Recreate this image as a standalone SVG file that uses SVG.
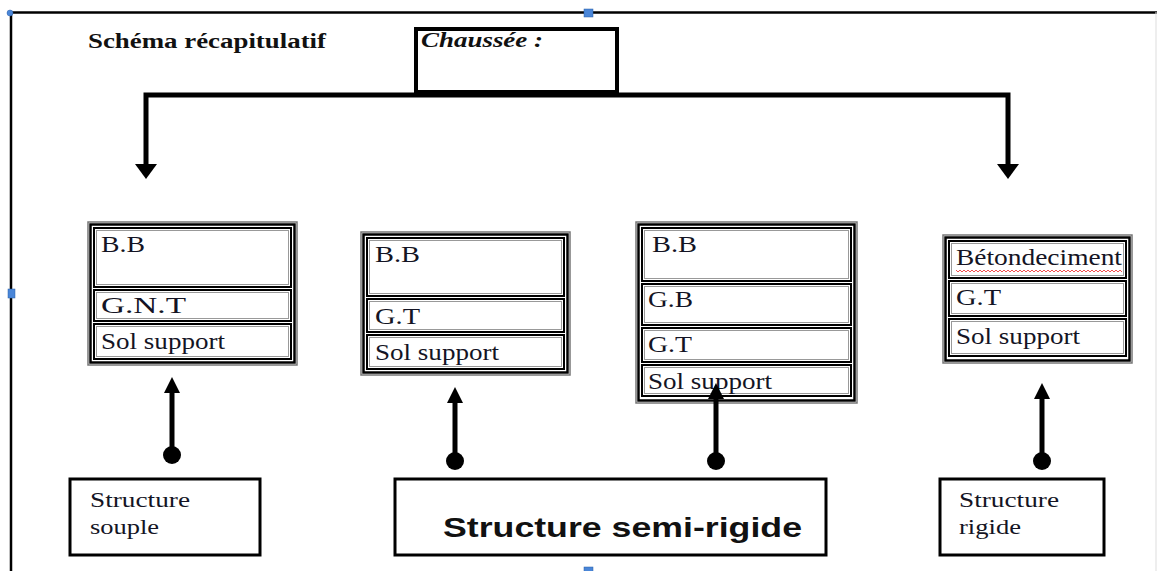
<svg xmlns="http://www.w3.org/2000/svg" width="1157" height="571" viewBox="0 0 1157 571">
<style>
.bg{fill:#fff}
.t{font-family:"Liberation Serif","Times New Roman",serif;fill:#141424;font-size:23px}
.s{font-size:21px}
.ttl{font-family:"Liberation Serif","Times New Roman",serif;font-weight:bold;font-size:20px;fill:#111}
.o1{fill:none;stroke:#777;stroke-width:1.5}
.o2{fill:none;stroke:#000;stroke-width:2.5}
.c1{fill:#fff;stroke:#000;stroke-width:2}
.c2{fill:none;stroke:#999;stroke-width:1}
.conn{fill:none;stroke:#000;stroke-width:5}
.dot{fill:#000}
.box{fill:#fff;stroke:#000;stroke-width:3}
.handle{fill:#4a86d8;stroke:#2a5fa8;stroke-width:0.5}
</style>
<rect class="bg" x="0" y="0" width="1157" height="571"/>

<g id="frame">
<line x1="10" y1="12.5" x2="1157" y2="12.5" stroke="#000" stroke-width="2.5"/>
<line x1="11" y1="12" x2="11" y2="571" stroke="#000" stroke-width="2.5"/>
<line x1="1156" y1="12" x2="1156" y2="571" stroke="#ddd" stroke-width="1"/>
</g>

<text id="title" class="ttl" x="88" y="48" textLength="238" lengthAdjust="spacingAndGlyphs">Schéma récapitulatif</text>

<g id="chaussee">
<rect x="416" y="29" width="201" height="63" fill="#fff" stroke="#000" stroke-width="4"/>
<text class="ttl" x="421" y="47" font-style="italic" textLength="122" lengthAdjust="spacingAndGlyphs">Chaussée :</text>
</g>

<g id="col1">
<rect class="o1" x="88" y="222" width="209" height="143"/>
<rect class="o2" x="90.5" y="224.5" width="204" height="138"/>
<rect class="c1" x="94" y="228" width="197" height="59"/><rect class="c2" x="96.5" y="230.5" width="192" height="54"/>
<rect class="c1" x="94" y="290" width="197" height="31"/><rect class="c2" x="96.5" y="292.5" width="192" height="26"/>
<rect class="c1" x="94" y="324" width="197" height="35"/><rect class="c2" x="96.5" y="326.5" width="192" height="30"/>
<text class="t" x="101" y="252" textLength="44" lengthAdjust="spacingAndGlyphs">B.B</text>
<text class="t" x="101" y="313" textLength="85" lengthAdjust="spacingAndGlyphs">G.N.T</text>
<text class="t" x="101" y="349" textLength="124" lengthAdjust="spacingAndGlyphs">Sol support</text>
</g>

<g id="col2">
<rect class="o1" x="361" y="232" width="209" height="143"/>
<rect class="o2" x="363.5" y="234.5" width="204" height="138"/>
<rect class="c1" x="367" y="238" width="197" height="58"/><rect class="c2" x="369.5" y="240.5" width="192" height="53"/>
<rect class="c1" x="367" y="299" width="197" height="33"/><rect class="c2" x="369.5" y="301.5" width="192" height="28"/>
<rect class="c1" x="367" y="335" width="197" height="34"/><rect class="c2" x="369.5" y="337.5" width="192" height="29"/>
<text class="t" x="375" y="262" textLength="45" lengthAdjust="spacingAndGlyphs">B.B</text>
<text class="t" x="375" y="324" textLength="45" lengthAdjust="spacingAndGlyphs">G.T</text>
<text class="t" x="375" y="360" textLength="124" lengthAdjust="spacingAndGlyphs">Sol support</text>
</g>

<g id="col3">
<rect class="o1" x="636" y="222" width="221" height="181"/>
<rect class="o2" x="638.5" y="224.5" width="216" height="176"/>
<rect class="c1" x="642" y="228" width="209" height="53"/><rect class="c2" x="644.5" y="230.5" width="204" height="48"/>
<rect class="c1" x="642" y="284" width="209" height="41"/><rect class="c2" x="644.5" y="286.5" width="204" height="36"/>
<rect class="c1" x="642" y="328" width="209" height="34"/><rect class="c2" x="644.5" y="330.5" width="204" height="29"/>
<rect class="c1" x="642" y="365" width="209" height="31"/><rect class="c2" x="644.5" y="367.5" width="204" height="26"/>
<text class="t" x="652" y="252" textLength="45" lengthAdjust="spacingAndGlyphs">B.B</text>
<text class="t" x="648" y="307" textLength="45" lengthAdjust="spacingAndGlyphs">G.B</text>
<text class="t" x="648" y="352" textLength="44" lengthAdjust="spacingAndGlyphs">G.T</text>
<text class="t" x="648" y="389" textLength="124" lengthAdjust="spacingAndGlyphs">Sol support</text>
</g>

<g id="col4">
<rect class="o1" x="943" y="235" width="189" height="128"/>
<rect class="o2" x="945.5" y="237.5" width="184" height="123"/>
<rect class="c1" x="949" y="241" width="177" height="37"/><rect class="c2" x="951.5" y="243.5" width="172" height="32"/>
<rect class="c1" x="949" y="281" width="177" height="35"/><rect class="c2" x="951.5" y="283.5" width="172" height="30"/>
<rect class="c1" x="949" y="319" width="177" height="37"/><rect class="c2" x="951.5" y="321.5" width="172" height="32"/>
<text class="t" x="956" y="265" textLength="166" lengthAdjust="spacingAndGlyphs">Bétondeciment</text>
<polyline fill="none" stroke="#f05050" stroke-width="1" points="956,270 958,272 960,270 962,272 964,270 966,272 968,270 970,272 972,270 974,272 976,270 978,272 980,270 982,272 984,270 986,272 988,270 990,272 992,270 994,272 996,270 998,272 1000,270 1002,272 1004,270 1006,272 1008,270 1010,272 1012,270 1014,272 1016,270 1018,272 1020,270 1022,272 1024,270 1026,272 1028,270 1030,272 1032,270 1034,272 1036,270 1038,272 1040,270 1042,272 1044,270 1046,272 1048,270 1050,272 1052,270 1054,272 1056,270 1058,272 1060,270 1062,272 1064,270 1066,272 1068,270 1070,272 1072,270 1074,272 1076,270 1078,272 1080,270 1082,272 1084,270 1086,272 1088,270 1090,272 1092,270 1094,272 1096,270 1098,272 1100,270 1102,272 1104,270 1106,272 1108,270 1110,272 1112,270 1114,272 1116,270 1118,272 1120,270 1122,272"/>
<text class="t" x="956" y="305" textLength="45" lengthAdjust="spacingAndGlyphs">G.T</text>
<text class="t" x="956" y="344" textLength="124" lengthAdjust="spacingAndGlyphs">Sol support</text>
</g>

<g id="souple">
<rect class="box" x="70" y="479" width="190" height="76"/>
<text class="t s" x="90" y="507" textLength="100" lengthAdjust="spacingAndGlyphs">Structure</text>
<text class="t s" x="90" y="534" textLength="69" lengthAdjust="spacingAndGlyphs">souple</text>
</g>
<g id="semirigide">
<rect class="box" x="395" y="479" width="431" height="76"/>
<text x="443" y="537" font-family="Liberation Sans, Arial, sans-serif" font-weight="bold" font-size="28" fill="#111" textLength="359" lengthAdjust="spacingAndGlyphs">Structure semi-rigide</text>
</g>
<g id="rigide">
<rect class="box" x="940" y="479" width="164" height="76"/>
<text class="t s" x="959" y="507" textLength="100" lengthAdjust="spacingAndGlyphs">Structure</text>
<text class="t s" x="959" y="534" textLength="62" lengthAdjust="spacingAndGlyphs">rigide</text>
</g>

<g id="connectors">
<polyline class="conn" points="146,166 146,95 1008,95 1008,166"/>
<line x1="416" y1="93.5" x2="617" y2="93.5" stroke="#000" stroke-width="4"/>
<polygon points="135,164 157,164 146,179" fill="#000"/>
<polygon points="997,164 1019,164 1008,179" fill="#000"/>

<line class="conn" x1="172" y1="455" x2="172" y2="390"/>
<polygon points="164,393 180,393 172,377" fill="#000"/>
<circle class="dot" cx="172" cy="455" r="9"/>

<line class="conn" x1="455" y1="461" x2="455" y2="400"/>
<polygon points="447,403 463,403 455,387" fill="#000"/>
<circle class="dot" cx="455" cy="461" r="9"/>

<line class="conn" x1="716" y1="461" x2="716" y2="396"/>
<polygon points="708,399 724,399 716,383" fill="#000"/>
<circle class="dot" cx="716" cy="461" r="9"/>

<line class="conn" x1="1042" y1="461" x2="1042" y2="396"/>
<polygon points="1034,399 1050,399 1042,383" fill="#000"/>
<circle class="dot" cx="1042" cy="461" r="9"/>
</g>

<g id="handles">
<circle class="handle" cx="10" cy="13" r="3"/>
<rect class="handle" x="584" y="9" width="9" height="8"/>
<rect class="handle" x="8" y="289" width="7" height="9"/>
<rect class="handle" x="584" y="567" width="9" height="6"/>
</g>
</svg>
